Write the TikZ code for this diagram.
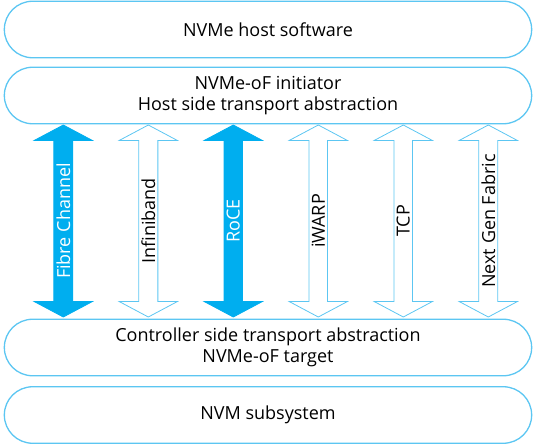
\documentclass[tikz,border=0pt]{standalone}
\usepackage{fontspec}
\setmainfont{Open Sans}
\usetikzlibrary{shapes.arrows,shapes.misc}
\definecolor{nvmeline}{HTML}{5CC6F2}
\definecolor{nvmeblue}{HTML}{00AEEF}
\begin{document}
\begin{tikzpicture}[x=1pt,y=1pt,
  layer/.style={rounded rectangle,draw=nvmeline,line width=1.3pt,
    minimum width=534pt,minimum height=56.5pt,align=center,
    font=\fontsize{18}{21.5}\selectfont},
  fabric/.style={double arrow,rotate=90,draw=nvmeline,line width=0.8pt,
    minimum height=192pt,minimum width=58pt,inner sep=0pt,
    double arrow head extend=15pt,double arrow tip angle=124,
    font=\fontsize{18}{19}\selectfont},
  fabricfull/.style={fabric,fill=nvmeblue,draw=nvmeblue,text=white}]
\useasboundingbox (0,0) rectangle (536,-445);
\def\MidY{-221}
% layers
\node[layer] (host) at (268,-29.5) {NVMe host software};
\node[layer] (initiator) at (268,-95.5) {NVMe-oF initiator\\Host side transport abstraction};
\node[layer] (target) at (268,-347.5) {Controller side transport abstraction\\NVMe-oF target};
\node[layer] (subsystem) at (268,-415) {NVM subsystem};
% fabrics
\node[fabricfull] (fc) at (63.3,\MidY) {Fibre Channel};
\node[fabric] (ib) at (148.3,\MidY) {Infiniband};
\node[fabricfull] (roce) at (233.3,\MidY) {RoCE};
\node[fabric] (iwarp) at (318.3,\MidY) {iWARP};
\node[fabric] (tcp) at (403.3,\MidY) {TCP};
\node[fabric] (ngf) at (488.3,\MidY) {Next Gen Fabric};
\end{tikzpicture}
\end{document}
